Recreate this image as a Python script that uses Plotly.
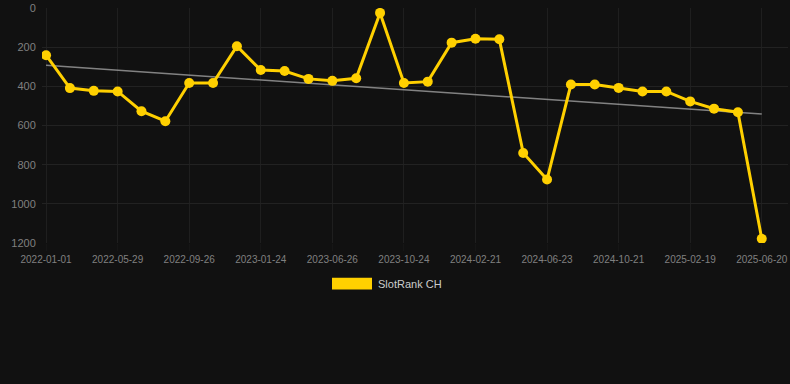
import numpy as np
import plotly.graph_objects as go

# Tick labels (every third observation carries a date label)
tick_dates = ["2022-01-01", "2022-05-29", "2022-09-26", "2023-01-24", "2023-06-26",
              "2023-10-24", "2024-02-21", "2024-06-23", "2024-10-21", "2025-02-19",
              "2025-06-20"]

# SlotRank CH values (rank, lower is better), evenly spaced observations
rank_values = [241, 409, 423, 426, 527, 578, 383, 383, 195, 317, 322,
               362, 372, 359, 25, 383, 376, 177, 157, 160, 740,
               876, 391, 391, 408, 426, 426, 477, 514, 532, 1178]

y_ticks = [0, 200, 400, 600, 800, 1000, 1200]

series_name = "SlotRank CH"
tick_step = 3

x_idx = np.arange(len(rank_values))
slope, intercept = np.polyfit(x_idx, rank_values, 1)
trend = slope * x_idx + intercept

GOLD = "#FFD000"
BG = "#111111"

fig = go.Figure()
fig.add_trace(go.Scatter(
    x=x_idx, y=trend, mode="lines",
    line=dict(color="rgba(150,150,150,0.85)", width=1.5),
    hoverinfo="skip", showlegend=False,
))
fig.add_trace(go.Scatter(
    x=x_idx, y=rank_values, mode="lines+markers", name=series_name,
    line=dict(color=GOLD, width=3),
    marker=dict(color=GOLD, size=10),
    showlegend=False,
))

fig.update_layout(
    width=790, height=384,
    margin=dict(l=42, r=2, t=6, b=141),
    paper_bgcolor=BG, plot_bgcolor=BG,
    font=dict(family="Liberation Sans, Arial, sans-serif", color="#808080"),
    xaxis=dict(
        range=[-0.17, 31.1],
        tickmode="array",
        tickvals=list(x_idx[::tick_step]),
        ticktext=tick_dates,
        tickfont=dict(size=10, color="#808080"),
        showgrid=True, gridcolor="#1f1f1f", gridwidth=1,
        zeroline=False, showline=False,
        ticks="outside", ticklen=7, tickcolor="#161616",
        ticklabeloverflow="allow",
    ),
    yaxis=dict(
        range=[1200, 0],
        tickmode="array",
        tickvals=y_ticks,
        tickfont=dict(size=11, color="#808080"),
        showgrid=True, gridcolor="#222222", gridwidth=1,
        zeroline=False, showline=False,
        ticks="outside", ticklen=3, tickcolor=BG,
        ticklabeloverflow="allow",
    ),
    showlegend=False,
)

# Custom legend: filled rectangle + label
fig.add_shape(type="rect", xref="paper", yref="paper",
              x0=(332 - 42) / 746, x1=(372 - 42) / 746,
              y0=-(290 - 243) / 237, y1=-(278 - 243) / 237,
              fillcolor=GOLD, line=dict(width=0))
fig.add_annotation(xref="paper", yref="paper",
                   x=(376 - 42) / 746, y=-(284 - 243) / 237,
                   xanchor="left", yanchor="middle", showarrow=False,
                   text=series_name, font=dict(size=11, color="#cccccc"))

fig.write_html("out.html", config={"displayModeBar": False})

# remove default page margin so the figure fills the window
with open("out.html", "r", encoding="utf-8") as f:
    html = f.read()
html = html.replace("<head>", "<head><style>html,body{margin:0;padding:0;background:#111111;overflow:hidden}</style>", 1)
with open("out.html", "w", encoding="utf-8") as f:
    f.write(html)
